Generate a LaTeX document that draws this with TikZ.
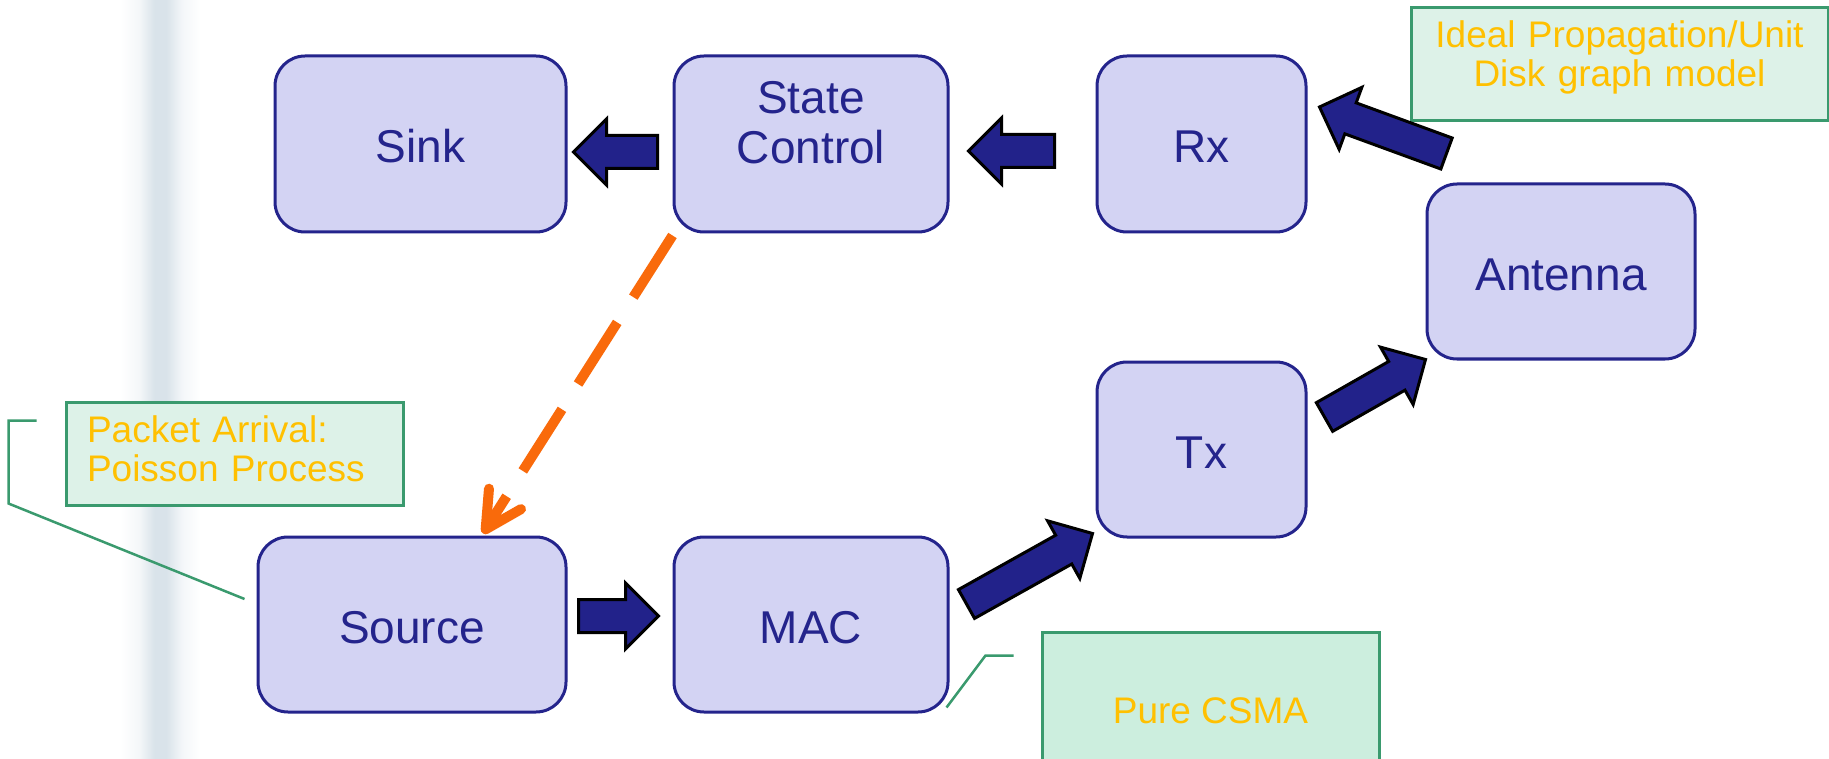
\documentclass[tikz,border=0pt]{standalone}
\usepackage{fontspec}
\setmainfont{Liberation Sans}
\usetikzlibrary{calc,arrows.meta}

\definecolor{boxfill}{HTML}{D3D3F3}
\definecolor{boxline}{HTML}{24248C}
\definecolor{fatfill}{HTML}{22228A}
\definecolor{notefill}{HTML}{DDF2E8}
\definecolor{notefilldeep}{HTML}{CCEEDE}
\definecolor{noteline}{HTML}{3A9A6E}
\definecolor{notetext}{HTML}{FFC000}
\definecolor{ctrlorange}{HTML}{F96A0B}
\definecolor{stripecore}{HTML}{D9E3EA}
\definecolor{stripesoft}{HTML}{F4F7F9}

% the shaded path box spans 25bp..75bp of this shading
\pgfdeclarehorizontalshading{slidestripe}{100bp}{%
  color(0bp)=(white); color(25bp)=(white); color(37bp)=(stripesoft);
  color(46.5bp)=(stripecore); color(54bp)=(stripecore); color(64bp)=(stripesoft);
  color(75bp)=(white); color(100bp)=(white)}

% thick block arrow from #1 (tail centre) to #2 (tip)
\newcommand\drawfat[2]{%
  \path ($(#2)!33pt!(#1)$) coordinate (fat-h);
  \draw[fatarrow]
    ($(#1)!16.5pt!90:(#2)$) -- ($(fat-h)!16.5pt!90:(#2)$) --
    ($(fat-h)!33pt!90:(#2)$) -- (#2) --
    ($(fat-h)!33pt!-90:(#2)$) -- ($(fat-h)!16.5pt!-90:(#2)$) --
    ($(#1)!16.5pt!-90:(#2)$) -- cycle;}

\begin{document}
\begin{tikzpicture}[x=1pt,y=-1pt,
  block/.style={draw=boxline, line width=3pt, fill=boxfill, rounded corners=30pt,
    text=boxline, font=\fontsize{46}{50}\selectfont, align=center, inner sep=0pt,
    text height=38pt, text depth=0pt},
  fatarrow/.style={draw=black, line width=3pt, fill=fatfill, line join=miter},
  note/.style={draw=noteline, line width=3pt, fill=notefill, text=notetext,
    font=\fontsize{37}{39}\selectfont, inner sep=0pt},
  leader/.style={draw=noteline, line width=2.5pt},
  ctrl/.style={draw=ctrlorange, line width=10pt, dash pattern=on 73pt off 30pt,
    -{Straight Barb[length=36pt, width=38pt, round]}}
]
\clip (0,0) rectangle (1829,759);
\fill[white] (0,0) rectangle (1829,759);
\shade[shading=slidestripe] (120,0) rectangle (200,759);

% blocks
\node[block, minimum width=291, minimum height=176] (sink) at (420.5,144) {Sink};
\node[block, minimum width=274, minimum height=176, text width=260pt, text depth=98pt]
  (sc) at (811,144) {State\\Control};
\node[block, minimum width=209, minimum height=176] (rx) at (1201.5,144) {Rx};
\node[block, minimum width=268, minimum height=175] (ant) at (1561,271.5) {Antenna};
\node[block, minimum width=209, minimum height=175] (tx) at (1201.5,449.5) {Tx};
\node[block, minimum width=308, minimum height=175] (src) at (412,624.5) {Source};
\node[block, minimum width=274, minimum height=175] (mac) at (811,624.5) {MAC};

% notes
\node[note, minimum width=337, minimum height=103, text width=295pt, align=left,
  text height=27pt, text depth=50pt] (pa) at (234.5,453.5) {Packet Arrival:\\Poisson Process};
\node[note, minimum width=417, minimum height=113, text width=400pt, align=center,
  text height=27pt, text depth=60pt] (prop) at (1619.5,64.5) {Ideal Propagation/Unit\\Disk graph model};
\node[note, fill=notefilldeep, minimum width=337, minimum height=156,
  text height=26pt, text depth=0pt] (csma) at (1210.5,710) {Pure CSMA};

% note leaders
\coordinate (pa-l) at ($(pa.north west)+(-28,20)$);
\coordinate (pa-e) at ($(src.west)+(-12,-25.5)$);
\draw[leader] (pa-l) -- ++(-28,0) -- ++(0,83) -- (pa-e);
\coordinate (csma-l) at ($(csma.north west)+(-27,25)$);
\coordinate (csma-e) at ($(mac.south east)+(-3,-6)$);
\draw[leader] (csma-l) -- ++(-28,0) -- (csma-e);

% block arrows
\coordinate (a1t) at ($(sc.west)+(-15,8)$);
\coordinate (a1h) at ($(sink.east)+(6,8)$);
\coordinate (a2t) at ($(rx.west)+(-41,7)$);
\coordinate (a2h) at ($(sc.east)+(19,7)$);
\coordinate (a3t) at ($(src.east)+(11,-8.5)$);
\coordinate (a3h) at ($(mac.west)+(-14,-8.5)$);
\coordinate (a4t) at ($(mac.east)+(17,-20.5)$);
\coordinate (a4h) at ($(tx.south west)+(-3,-5)$);
\coordinate (a5t) at ($(tx.east)+(17,-32.5)$);
\coordinate (a5h) at ($(ant.south west)+(0,-1)$);
\coordinate (a6t) at ($(ant.north west)+(21,-29)$);
\coordinate (a6h) at ($(rx.east)+(12,-37)$);
\drawfat{a1t}{a1h}
\drawfat{a2t}{a2h}
\drawfat{a3t}{a3h}
\drawfat{a4t}{a4h}
\drawfat{a5t}{a5h}
\drawfat{a6t}{a6h}

% control feedback
\coordinate (fb-s) at ($(sc.south west)+(0,2)$);
\coordinate (fb-e) at ($(src.north)+(71,-2)$);
\draw[ctrl] (fb-s) -- (fb-e);
\end{tikzpicture}
\end{document}
